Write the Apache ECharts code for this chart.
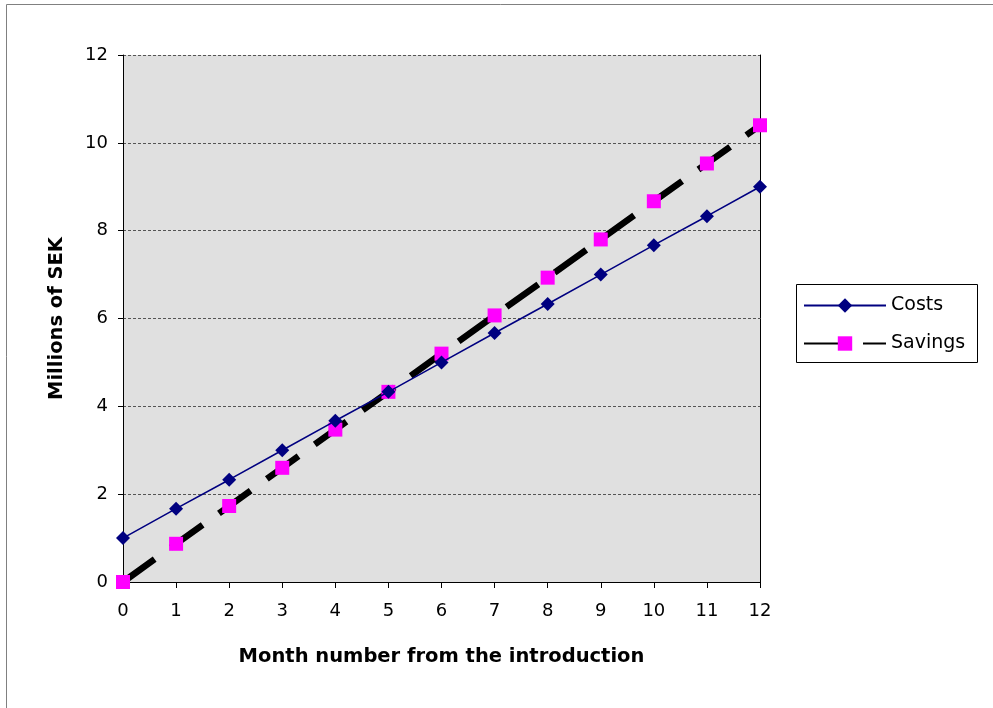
<!DOCTYPE html>
<html>
<head>
<meta charset="utf-8">
<script src="https://cdn.jsdelivr.net/npm/echarts@6/dist/echarts.min.js"></script>
<style>
  html, body { margin: 0; padding: 0; background: #fff; }
  #chart { width: 993px; height: 708px; }
</style>
</head>
<body>
<div id="chart"></div>
<script>
// Months since the introduction
const months = ['0','1','2','3','4','5','6','7','8','9','10','11','12'];
// Millions of SEK
const costs   = [1, 1.67, 2.33, 3, 3.67, 4.33, 5, 5.67, 6.33, 7, 7.67, 8.33, 9];
const savings = [0, 0.87, 1.73, 2.6, 3.47, 4.33, 5.2, 6.07, 6.93, 7.8, 8.67, 9.53, 10.4];
const yTicks = { min: 0, max: 12, interval: 2 };

const font = '"DejaVu Sans", "Liberation Sans", Arial, sans-serif';
const chart = echarts.init(document.getElementById('chart'));

chart.setOption({
  animation: false,
  textStyle: { fontFamily: font },
  graphic: [
    // outer frame
    { type: 'rect', shape: { x: 6.5, y: 4.5, width: 1000, height: 720 },
      style: { fill: null, stroke: '#808080', lineWidth: 1 }, z: -10 },
    // legend box
    { type: 'rect', shape: { x: 796.5, y: 284.5, width: 181, height: 78 },
      style: { fill: '#fff', stroke: '#000', lineWidth: 1 }, z: 0 }
  ],
  grid: { left: 123, top: 55, width: 637, height: 527,
          show: true, backgroundColor: '#e0e0e0', borderWidth: 0 },
  legend: {
    orient: 'vertical', left: 798, top: 291, itemGap: 19,
    itemWidth: 82, itemHeight: 18, z: 10,
    textStyle: { fontFamily: font, fontSize: 19, color: '#000' },
    data: ['Costs', 'Savings']
  },
  xAxis: {
    type: 'category', data: months, boundaryGap: false,
    name: 'Month number from the introduction', nameLocation: 'middle', nameGap: 65,
    nameTextStyle: { fontFamily: font, fontSize: 19.5, fontWeight: 'bold', color: '#000' },
    axisLine: { lineStyle: { color: '#000', width: 1 } },
    axisTick: { show: true, inside: false, length: 6, lineStyle: { color: '#000' } },
    axisLabel: { fontFamily: font, fontSize: 18, color: '#000', margin: 20 },
    splitLine: { show: false }
  },
  yAxis: [
    {
      type: 'value', min: yTicks.min, max: yTicks.max, interval: yTicks.interval,
      name: 'Millions of SEK', nameLocation: 'middle', nameGap: 56, nameRotate: 90,
      nameTextStyle: { fontFamily: font, fontSize: 19.5, fontWeight: 'bold', color: '#000' },
      axisLine: { show: true, lineStyle: { color: '#000', width: 1 } },
      axisTick: { show: true, inside: false, length: 5, lineStyle: { color: '#000' } },
      axisLabel: { fontFamily: font, fontSize: 18, color: '#000', margin: 15 },
      splitLine: { show: true, lineStyle: { color: '#555', type: [3, 2], width: 1 } }
    },
    {
      // right-hand frame edge of the plot area
      type: 'value', position: 'right', min: yTicks.min, max: yTicks.max, interval: yTicks.interval,
      axisLine: { show: true, lineStyle: { color: '#000', width: 1 } },
      axisTick: { show: false }, axisLabel: { show: false }, splitLine: { show: false }
    }
  ],
  series: [
    {
      name: 'Costs', type: 'line', data: costs,
      symbol: 'diamond', symbolSize: 14,
      lineStyle: { color: '#000080', width: 1.6 },
      itemStyle: { color: '#000080' },
      z: 3
    },
    {
      name: 'Savings', type: 'line', data: savings,
      symbol: 'rect', symbolSize: 14,
      lineStyle: { color: '#000', width: 6.5, type: [39, 20] },
      itemStyle: { color: '#ff00ff' },
      z: 2
    }
  ]
});
</script>
</body>
</html>
